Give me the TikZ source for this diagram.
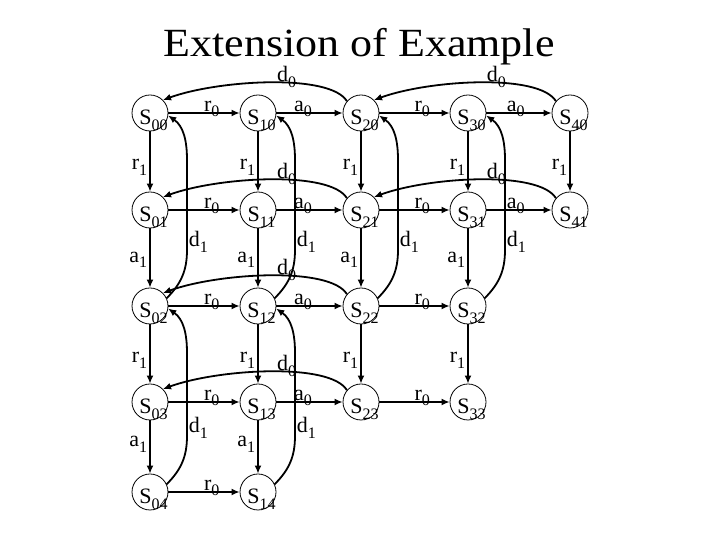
\documentclass[tikz,border=0pt]{standalone}
\usepackage{graphicx}
\usepackage{fontspec}
\setmainfont{Liberation Serif}
\usetikzlibrary{arrows.meta,calc}
\newcommand{\sbs}[1]{\raisebox{-5.5pt}{\fontsize{16}{16}\selectfont #1}}
\newcommand{\stn}[1]{\raisebox{-12pt}[0pt][0pt]{\makebox[0pt]{\hspace*{7pt}S\sbs{#1}}}}
\begin{document}
\begin{tikzpicture}[x=1pt,y=1pt,
  st/.style={circle,draw,line width=0.8pt,minimum size=36pt,inner sep=0pt,font=\fontsize{22}{22}\selectfont},
  tr/.style={line width=1.8pt,-{Latex[length=8pt,width=7pt]}},
  lab/.style={inner sep=0pt,font=\fontsize{22}{22}\selectfont},
  hl/.style={lab,anchor=base,yshift=1.5pt},
  vl/.style={lab,anchor=base east,xshift=-2pt},
  dl/.style={lab,anchor=base west,xshift=1pt,yshift=3pt},
  arcl/.style={lab,anchor=base,yshift=1pt,pos=.42}]
\fill[white] (0,0) rectangle (720,540);
\useasboundingbox (0,0) rectangle (720,540);

\node[font=\fontsize{40}{40}\selectfont,anchor=base,inner sep=0pt] (title) at (359,483) {\scalebox{1.1}[1]{Extension of Example}};

% nodes
\node[st] (S00) at (150,427) {\stn{00}};
\node[st] (S10) at (258,427) {\stn{10}};
\node[st] (S20) at (361,427) {\stn{20}};
\node[st] (S30) at (468,427) {\stn{30}};
\node[st] (S40) at (570,427) {\stn{40}};
\node[st] (S01) at (150,330) {\stn{01}};
\node[st] (S11) at (258,330) {\stn{11}};
\node[st] (S21) at (361,330) {\stn{21}};
\node[st] (S31) at (468,330) {\stn{31}};
\node[st] (S41) at (570,330) {\stn{41}};
\node[st] (S02) at (150,234) {\stn{02}};
\node[st] (S12) at (258,234) {\stn{12}};
\node[st] (S22) at (361,234) {\stn{22}};
\node[st] (S32) at (468,234) {\stn{32}};
\node[st] (S03) at (150,138) {\stn{03}};
\node[st] (S13) at (258,138) {\stn{13}};
\node[st] (S23) at (361,138) {\stn{23}};
\node[st] (S33) at (468,138) {\stn{33}};
\node[st] (S04) at (150,48) {\stn{04}};
\node[st] (S14) at (258,48) {\stn{14}};

% horizontal edges
\foreach \r in {0,1}{
  \draw[tr] (S0\r) -- node[hl,pos=.61]{r\sbs{0}} (S1\r);
  \draw[tr] (S1\r) -- node[hl,pos=.40]{a\sbs{0}} (S2\r);
  \draw[tr] (S2\r) -- node[hl,pos=.61]{r\sbs{0}} (S3\r);
  \draw[tr] (S3\r) -- node[hl,pos=.45]{a\sbs{0}} (S4\r);
}
\foreach \r in {2,3}{
  \draw[tr] (S0\r) -- node[hl,pos=.61]{r\sbs{0}} (S1\r);
  \draw[tr] (S1\r) -- node[hl,pos=.40]{a\sbs{0}} (S2\r);
  \draw[tr] (S2\r) -- node[hl,pos=.61]{r\sbs{0}} (S3\r);
}
\draw[tr] (S04) -- node[hl,pos=.61]{r\sbs{0}} (S14);

% vertical edges
\foreach \c in {0,1,2,3,4}{
  \draw[tr] (S\c0) -- node[vl,pos=.64]{r\sbs{1}} (S\c1);
}
\foreach \c in {0,1,2,3}{
  \draw[tr] (S\c1) -- node[vl,pos=.57]{a\sbs{1}} (S\c2);
  \draw[tr] (S\c2) -- node[vl,pos=.65]{r\sbs{1}} (S\c3);
}
\foreach \c in {0,1}{
  \draw[tr] (S\c3) -- node[vl,pos=.5]{a\sbs{1}} (S\c4);
}

% d0 arcs
\draw[tr] (S20.140) .. controls +(-17,28) and +(55,20) .. node[arcl]{d\sbs{0}} (S00.45);
\draw[tr] (S40.140) .. controls +(-17,28) and +(55,20) .. node[arcl]{d\sbs{0}} (S20.45);
\draw[tr] (S21.140) .. controls +(-17,28) and +(55,20) .. node[arcl]{d\sbs{0}} (S01.45);
\draw[tr] (S41.140) .. controls +(-17,28) and +(55,20) .. node[arcl]{d\sbs{0}} (S21.45);
\draw[tr] (S22.140) .. controls +(-17,28) and +(55,20) .. node[arcl]{d\sbs{0}} (S02.45);
\draw[tr] (S23.140) .. controls +(-17,28) and +(55,20) .. node[arcl]{d\sbs{0}} (S03.45);

% d1 curves
\draw[tr] (S02.25) to[out=45,in=-90] ($(S02)+(37,56)$) node[dl]{d\sbs{1}} -- ($(S00)+(37,-47)$) to[out=90,in=-35] (S00.-8);
\draw[tr] (S12.25) to[out=45,in=-90] ($(S12)+(37,56)$) node[dl]{d\sbs{1}} -- ($(S10)+(37,-47)$) to[out=90,in=-35] (S10.-8);
\draw[tr] (S22.25) to[out=45,in=-90] ($(S22)+(37,56)$) node[dl]{d\sbs{1}} -- ($(S20)+(37,-47)$) to[out=90,in=-35] (S20.-8);
\draw[tr] (S32.25) to[out=45,in=-90] ($(S32)+(37,56)$) node[dl]{d\sbs{1}} -- ($(S30)+(37,-47)$) to[out=90,in=-35] (S30.-8);
\draw[tr] (S04.25) to[out=45,in=-90] ($(S04)+(37,56)$) node[dl]{d\sbs{1}} -- ($(S02)+(37,-47)$) to[out=90,in=-35] (S02.-8);
\draw[tr] (S14.25) to[out=45,in=-90] ($(S14)+(37,56)$) node[dl]{d\sbs{1}} -- ($(S12)+(37,-47)$) to[out=90,in=-35] (S12.-8);
\end{tikzpicture}
\end{document}
